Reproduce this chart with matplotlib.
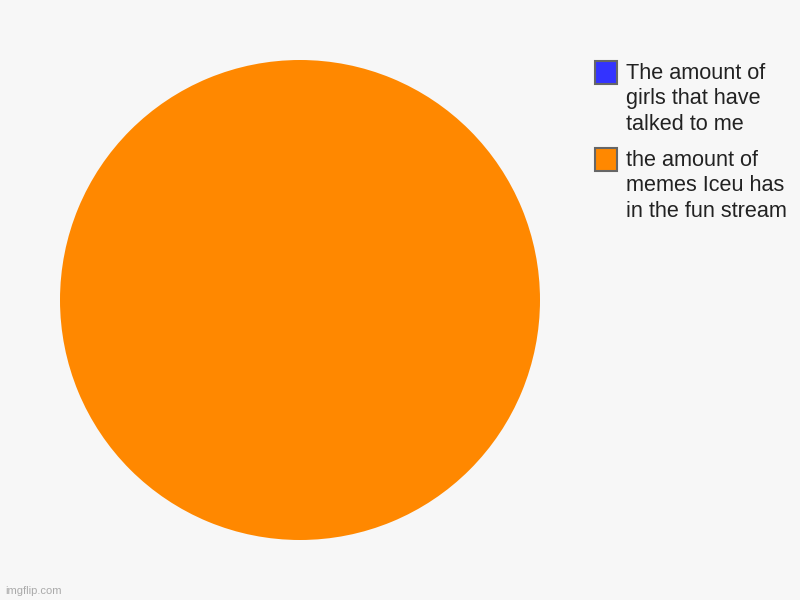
import matplotlib.pyplot as plt
from matplotlib.patches import Rectangle

plt.rcParams["font.family"] = ["Liberation Sans", "DejaVu Sans"]

labels = [
    "The amount of\ngirls that have\ntalked to me",
    "the amount of\nmemes Iceu has\nin the fun stream",
]
values = [0, 100]
colors = ["#3333ff", "#ff8800"]

fig = plt.figure(figsize=(8, 6), dpi=100)
fig.patch.set_facecolor("#f7f7f7")

ax = fig.add_axes([0.075, 0.1, 0.6, 0.8])
ax.pie(values, colors=colors, startangle=90, counterclock=False,
       wedgeprops={"linewidth": 0})
ax.set_xlim(-1, 1)
ax.set_ylim(-1, 1)
ax.set_aspect("equal")
ax.axis("off")

# legend drawn by hand so the squares and text line up like the original
W, H = 800, 600
top = 61
for i, (lab, col) in enumerate(zip(labels, colors)):
    y0 = top + i * 87
    fig.patches.append(Rectangle((595 / W, 1 - (y0 + 23) / H), 22 / W, 23 / H,
                                 transform=fig.transFigure, facecolor=col,
                                 edgecolor="#666666", linewidth=1.5))
    fig.text(626 / W, 1 - (y0 + 2) / H, lab, fontsize=15.6, color="#222222",
             va="top", ha="left", linespacing=1.28)

fig.text(5 / W, 1 - 591 / H, "imgflip.com", fontsize=8, color="#aaaaaa",
         va="center", ha="left")

fig.savefig("out.png", dpi=100, facecolor=fig.get_facecolor())
